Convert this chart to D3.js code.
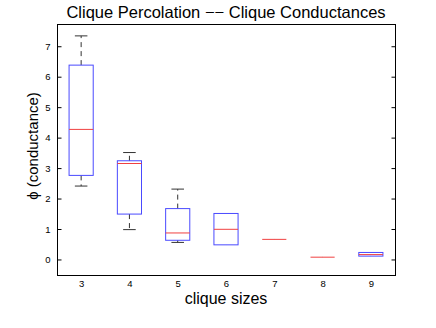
<!DOCTYPE html>
<html>
<head>
<meta charset="utf-8">
<script src="https://cdn.jsdelivr.net/npm/d3@7"></script>
<style>
body { margin: 0; background: #fff; }
text { font-family: "Liberation Sans", Arial, sans-serif; }
</style>
</head>
<body>
<div id="chart"></div>
<script>
const svgWidth = 436, svgHeight = 328;
const margin = { top: 24, right: 41, bottom: 53, left: 57 };
const width = svgWidth - margin.left - margin.right;
const height = svgHeight - margin.top - margin.bottom;

// clique sizes and box statistics
const sizes = [3, 4, 5, 6, 7, 8, 9];
const whiskerLow = [2.41, 0.98, 0.56, 0.48, 0.66, 0.075, 0.11];
const q1 = [2.76, 1.49, 0.63, 0.48, 0.66, 0.075, 0.11];
const median = [4.27, 3.15, 0.87, 0.99, 0.66, 0.075, 0.16];
const q3 = [6.38, 3.24, 1.67, 1.51, 0.66, 0.075, 0.23];
const whiskerHigh = [7.34, 3.51, 2.31, 1.51, 0.66, 0.075, 0.23];
const yTicks = [0, 1, 2, 3, 4, 5, 6, 7];

const data = sizes.map((s, i) => ({
  size: s, lo: whiskerLow[i], q1: q1[i], med: median[i], q3: q3[i], hi: whiskerHigh[i]
}));

const svg = d3.select("#chart").append("svg")
  .attr("width", svgWidth)
  .attr("height", svgHeight);

const chartGroup = svg.append("g")
  .attr("transform", `translate(${margin.left}, ${margin.top})`);

const x = d3.scaleLinear().domain([2.5, 9.5]).range([0, width]);
const y = d3.scaleLinear().domain([-0.51, 7.73]).range([height, 0]);

// frame
chartGroup.append("rect")
  .attr("x", 0.5).attr("y", 0.5)
  .attr("width", width).attr("height", height)
  .attr("fill", "none").attr("stroke", "#000");

// y ticks (inside, both sides)
const leftAxis = d3.axisLeft(y).tickValues(yTicks).tickSizeInner(-4).tickSizeOuter(0).tickPadding(7);
const gy = chartGroup.append("g").attr("transform", "translate(0.5,0)").call(leftAxis);
gy.select(".domain").remove();
gy.selectAll("text").attr("font-size", 9.5).attr("font-family", "Liberation Sans, Arial, sans-serif");

const rightAxis = d3.axisRight(y).tickValues(yTicks).tickSizeInner(-4).tickSizeOuter(0).tickFormat("");
const gr = chartGroup.append("g").attr("transform", `translate(${width + 0.5},0)`).call(rightAxis);
gr.select(".domain").remove();

// x tick labels
const bottomAxis = d3.axisBottom(x).tickValues(sizes).tickFormat(d3.format("d")).tickSize(0).tickPadding(5);
const gx = chartGroup.append("g").attr("transform", `translate(0,${height + 0.5})`).call(bottomAxis);
gx.select(".domain").remove();
gx.selectAll("text").attr("font-size", 9.5).attr("font-family", "Liberation Sans, Arial, sans-serif");

const boxHalf = 0.25, capHalf = 0.13;
const boxes = chartGroup.selectAll(".box").data(data).enter().append("g").attr("class", "box");

// whiskers
boxes.append("line")
  .attr("x1", d => x(d.size)).attr("x2", d => x(d.size))
  .attr("y1", d => y(d.q3)).attr("y2", d => y(d.hi))
  .attr("stroke", "#333").attr("stroke-dasharray", "5,4");
boxes.append("line")
  .attr("x1", d => x(d.size)).attr("x2", d => x(d.size))
  .attr("y1", d => y(d.q1)).attr("y2", d => y(d.lo))
  .attr("stroke", "#333").attr("stroke-dasharray", "5,4");
boxes.filter(d => d.hi > d.q3).append("line")
  .attr("x1", d => x(d.size - capHalf)).attr("x2", d => x(d.size + capHalf))
  .attr("y1", d => y(d.hi)).attr("y2", d => y(d.hi))
  .attr("stroke", "#333");
boxes.filter(d => d.lo < d.q1).append("line")
  .attr("x1", d => x(d.size - capHalf)).attr("x2", d => x(d.size + capHalf))
  .attr("y1", d => y(d.lo)).attr("y2", d => y(d.lo))
  .attr("stroke", "#333");

// boxes
boxes.append("rect")
  .attr("x", d => x(d.size - boxHalf))
  .attr("width", x(2 * boxHalf) - x(0))
  .attr("y", d => y(d.q3))
  .attr("height", d => y(d.q1) - y(d.q3))
  .attr("fill", "none").attr("stroke", "#4a4aff");

// medians
boxes.append("line")
  .attr("x1", d => x(d.size - boxHalf)).attr("x2", d => x(d.size + boxHalf))
  .attr("y1", d => y(d.med)).attr("y2", d => y(d.med))
  .attr("stroke", "#f04040");

// title and labels
svg.append("text")
  .attr("x", 226).attr("y", 18)
  .attr("text-anchor", "middle").attr("font-size", 16.5)
  .text("Clique Percolation −− Clique Conductances");

svg.append("text")
  .attr("x", 226).attr("y", 304)
  .attr("text-anchor", "middle").attr("font-size", 16)
  .text("clique sizes");

svg.append("text")
  .attr("transform", "rotate(-90)")
  .attr("x", -146).attr("y", 38)
  .attr("text-anchor", "middle").attr("font-size", 15)
  .text("ϕ (conductance)");
</script>
</body>
</html>
